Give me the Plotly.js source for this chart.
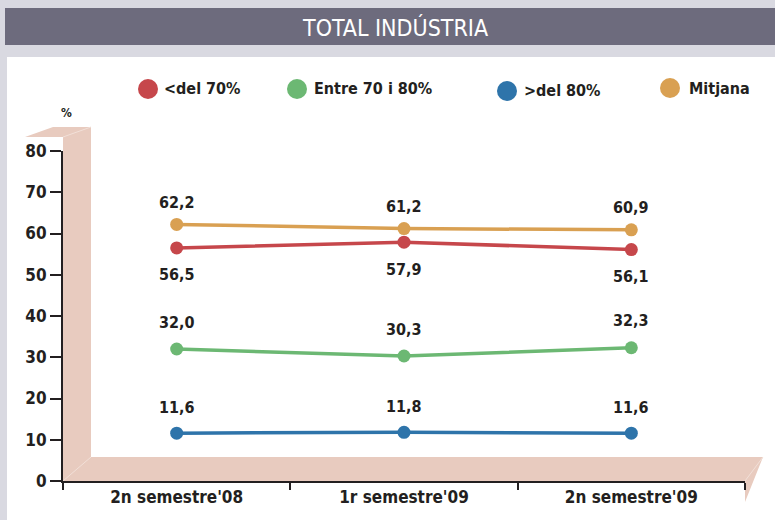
<!DOCTYPE html>
<html><head><meta charset="utf-8">
<script src="https://cdn.plot.ly/plotly-3.0.1.min.js"></script>
<style>html,body{margin:0;padding:0;background:#d9d9e1;}#c{width:775px;height:520px;}</style>
</head><body><div id="c"></div>
<script>
var categories = ["2n semestre'08", "1r semestre'09", "2n semestre'09"];
var seriesNames = ["&lt;del 70%", "Entre 70 i 80%", "&gt;del 80%", "Mitjana"];
var lessThan70 = [56.5, 57.9, 56.1];
var between70and80 = [32.0, 30.3, 32.3];
var moreThan80 = [11.6, 11.8, 11.6];
var mitjana = [62.2, 61.2, 60.9];
var yTicks = [0, 10, 20, 30, 40, 50, 60, 70, 80];

var FONT = "'DejaVu Sans Condensed', 'Liberation Sans Narrow', sans-serif";
var W = 775, H = 520, L = 63, R = 745, T = 151, B = 481;
function px(x){ return (x - L) / (R - L); }
function py(y){ return (B - y) / (B - T); }

var series = [
  {y: lessThan70, color: '#c6474b', shift: -27},
  {y: between70and80, color: '#6cb873', shift: 27},
  {y: moreThan80, color: '#2e74aa', shift: 26},
  {y: mitjana, color: '#d9a052', shift: 22}
];
var traces = series.map(function(s, i){
  return {x: categories, y: s.y, type: 'scatter', mode: 'lines+markers', name: seriesNames[i],
    line: {color: s.color, width: 3.5}, marker: {color: s.color, size: 13}, hoverinfo: 'none', cliponaxis: false};
});

var annotations = [];
series.forEach(function(s){
  s.y.forEach(function(v, j){
    annotations.push({x: categories[j], y: v, xref: 'x', yref: 'y', text: v.toFixed(1).replace('.', ','),
      showarrow: false, yshift: s.shift, yanchor: 'middle', xanchor: 'center',
      font: {family: FONT, size: 16, color: '#231f20', weight: 'bold'}});
  });
});
// title
annotations.push({x: px(395), y: py(27), xref: 'paper', yref: 'paper', xanchor: 'center', yanchor: 'middle',
  text: 'TOTAL INDÚSTRIA', showarrow: false, font: {family: FONT, size: 23, color: '#ffffff'}});
// percent label
annotations.push({x: px(66), y: py(113), xref: 'paper', yref: 'paper', xanchor: 'center', yanchor: 'middle',
  text: '<b>%</b>', showarrow: false, font: {family: FONT, size: 12, color: '#231f20'}});

var legendPos = [[148, 89, 162], [297, 89, 312], [507, 91, 522], [670, 88, 687]];
var shapes = [];
// white panel
shapes.push({type: 'rect', xref: 'paper', yref: 'paper', x0: px(7), x1: px(780), y0: py(57), y1: py(525),
  fillcolor: '#ffffff', line: {width: 0}, layer: 'below'});
// title bar
shapes.push({type: 'rect', xref: 'paper', yref: 'paper', x0: px(5), x1: px(780), y0: py(8), y1: py(45),
  fillcolor: '#6d6b7d', line: {width: 0}, layer: 'below'});
// pink 3D L band
function path(pts){ return 'M' + pts.map(function(p){ return px(p[0]) + ',' + py(p[1]); }).join(' L') + ' Z'; }
shapes.push({type: 'path', xref: 'paper', yref: 'paper', layer: 'below',
  path: path([[25,137],[53,127],[91,127],[91,457],[763,457],[745,502],[745,481],[63,481],[63,137]]),
  fillcolor: '#e8cbbf', line: {width: 0}});
shapes.push({type: 'path', xref: 'paper', yref: 'paper', layer: 'below',
  path: 'M' + px(63) + ',' + py(137) + ' L' + px(91) + ',' + py(127),
  line: {color: '#f2e0d8', width: 1}});
shapes.push({type: 'path', xref: 'paper', yref: 'paper', layer: 'below',
  path: 'M' + px(63) + ',' + py(481) + ' L' + px(91) + ',' + py(457),
  line: {color: '#f2e0d8', width: 1}});
shapes.push({type: 'path', xref: 'paper', yref: 'paper', layer: 'below',
  path: 'M' + px(745) + ',' + py(481) + ' L' + px(763) + ',' + py(457),
  line: {color: '#f2e0d8', width: 1}});

legendPos.forEach(function(p, i){
  shapes.push({type: 'circle', xref: 'paper', yref: 'paper', x0: px(p[0]-10), x1: px(p[0]+10), y0: py(p[1]-10), y1: py(p[1]+10),
    fillcolor: series[i].color, line: {width: 0}});
  annotations.push({x: px(p[2]), y: py(p[1]), xref: 'paper', yref: 'paper', xanchor: 'left', yanchor: 'middle',
    text: '<b>' + seriesNames[i] + '</b>', showarrow: false, font: {family: FONT, size: 16, color: '#231f20'}});
});

var layout = {
  width: W, height: H, margin: {l: L, r: W - R, t: T, b: H - B, pad: 0},
  paper_bgcolor: '#d9d9e1', plot_bgcolor: 'rgba(0,0,0,0)', showlegend: false,
  xaxis: {type: 'category', range: [-0.5, 2.5], showgrid: false, zeroline: false, showline: true, linecolor: '#231f20', linewidth: 2,
    ticks: 'outside', tickson: 'boundaries', ticklen: 7, tickwidth: 2, tickcolor: '#231f20',
    tickfont: {family: FONT, size: 17, color: '#231f20', weight: 'bold'}, fixedrange: true},
  yaxis: {range: [0, 80], tickvals: yTicks, showgrid: false, zeroline: false, showline: true, linecolor: '#231f20', linewidth: 2,
    ticks: 'outside', ticklen: 11, tickwidth: 2, tickcolor: '#231f20',
    tickfont: {family: FONT, size: 17, color: '#231f20', weight: 'bold'}, fixedrange: true},
  shapes: shapes, annotations: annotations
};
Plotly.newPlot('c', traces, layout, {displayModeBar: false, staticPlot: true});
</script></body></html>
